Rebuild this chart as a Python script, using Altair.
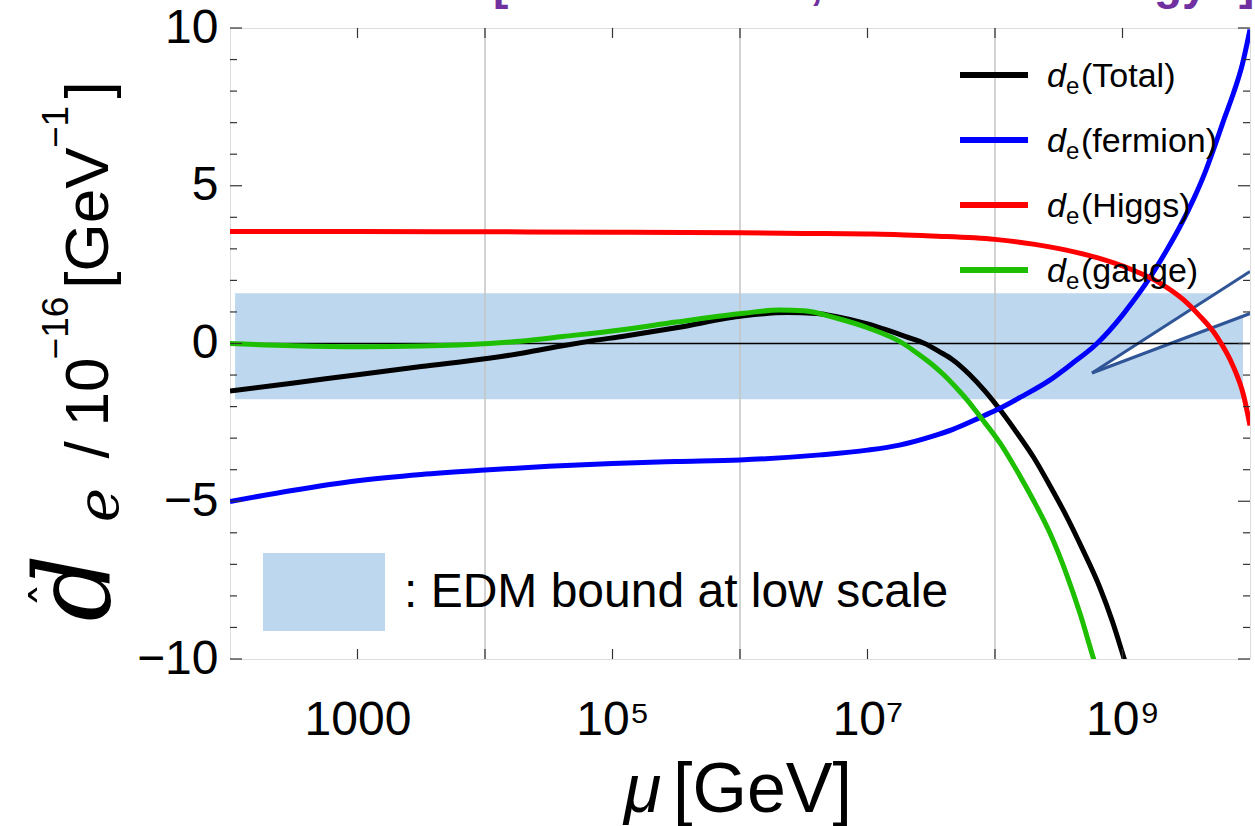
import altair as alt
import pandas as pd

# ---------------- data ----------------
# x positions are log10(mu / GeV)
tot_lx = [2.0, 2.5, 3.0, 3.5, 4.03, 4.3, 4.61, 4.8, 5.1, 5.5, 6.03, 6.37, 6.6, 6.76, 7.0, 7.15, 7.3, 7.46, 7.56, 7.67, 7.8, 7.92, 8.04, 8.17, 8.3, 8.43, 8.56, 8.69, 8.82, 8.92, 9.01, 9.06]
tot_d = [-1.51, -1.25, -0.99, -0.73, -0.47, -0.3, -0.07, 0.06, 0.24, 0.5, 0.88, 0.98, 0.95, 0.85, 0.62, 0.43, 0.22, -0.02, -0.25, -0.52, -0.98, -1.5, -2.1, -2.82, -3.59, -4.5, -5.47, -6.55, -7.71, -8.8, -9.95, -10.6]

fer_lx = [2.0, 2.5, 3.0, 3.5, 4.0, 4.5, 5.0, 5.5, 6.0, 6.63, 7.0, 7.25, 7.5, 7.67, 7.88, 8.01, 8.2, 8.43, 8.6, 8.8, 9.0, 9.08, 9.2, 9.35, 9.45, 9.56, 9.65, 9.74, 9.8, 9.87, 9.94, 10.0]
fer_d = [-5.01, -4.65, -4.35, -4.15, -4.01, -3.89, -3.8, -3.74, -3.69, -3.53, -3.38, -3.22, -2.95, -2.72, -2.35, -2.11, -1.7, -1.16, -0.65, 0.0, 0.9, 1.32, 2.0, 2.98, 3.7, 4.6, 5.45, 6.45, 7.15, 7.93, 8.85, 9.95]

hig_lx = [2.0, 3.0, 4.0, 5.0, 6.0, 6.5, 7.0, 7.25, 7.5, 8.0, 8.3, 8.56, 8.8, 9.08, 9.3, 9.48, 9.6, 9.74, 9.87, 9.95, 10.0]
hig_d = [3.55, 3.55, 3.54, 3.53, 3.51, 3.49, 3.47, 3.45, 3.41, 3.3, 3.15, 2.96, 2.72, 2.33, 1.9, 1.38, 0.9, 0.22, -0.74, -1.65, -2.6]

gau_lx = [2.0, 2.5, 3.04, 3.5, 4.03, 4.3, 4.61, 5.06, 5.5, 6.03, 6.31, 6.5, 6.76, 7.0, 7.28, 7.4, 7.5, 7.6, 7.7, 7.8, 7.88, 8.04, 8.17, 8.3, 8.43, 8.56, 8.67, 8.77, 8.82]
gau_d = [0.0, -0.07, -0.1, -0.08, 0.0, 0.08, 0.22, 0.43, 0.68, 0.96, 1.06, 1.04, 0.8, 0.5, 0.0, -0.34, -0.64, -1.0, -1.42, -1.88, -2.3, -3.16, -4.02, -4.96, -6.0, -7.3, -8.6, -9.95, -10.6]

series_names = ["Total", "fermion", "Higgs", "gauge"]
series_colors = ["#000000", "#0000FF", "#FF0000", "#1DBF00"]
series_lx = [tot_lx, fer_lx, hig_lx, gau_lx]
series_d = [tot_d, fer_d, hig_d, gau_d]

# EDM band (low-scale bound)
band_lx = [2.04, 9.945]
band_d = [1.59, -1.77]

# callout wedge: tip, upper edge end, lower edge end
wedge_tip = (8.761, -0.935)
wedge_end_lx = 10.0
wedge_end_top = 2.28
wedge_end_bot = 0.95

x_tick_vals = [1e3, 1e5, 1e7, 1e9]
x_tick_text = ["1000", "10\u2075", "10\u2077", "10\u2079"]
x_grid_vals = [1e4, 1e6, 1e8]
x_decades = [1e3, 1e4, 1e5, 1e6, 1e7, 1e8, 1e9]
y_major = [-10, -5, 0, 5, 10]
y_minor = [v for v in range(-9, 10) if v % 5 != 0]

# fragments of a cropped heading visible at the very top edge
head_parts = ["[", ",", "gy", "]"]

# ---------------- layout ----------------
W, H = 1020, 631
PL, PT = 230, 28
FONT = "Liberation Sans"

xscale = alt.Scale(type="log", domain=[100, 1e10], nice=False)
yscale = alt.Scale(domain=[-10, 10], nice=False, zero=False)

x_expr = " : ".join(
    f"datum.value == {v:g} ? '{t}'" for v, t in zip(x_tick_vals[:-1], x_tick_text[:-1])
) + f" : '{x_tick_text[-1]}'"

xaxis = alt.Axis(values=x_tick_vals, labelExpr=x_expr, labelFont=FONT, labelFontSize=48,
                 labelColor="black", labelPadding=37, ticks=False, domain=False, grid=False,
                 labelFlush=False, labelOverlap=False, title=None)
yaxis = alt.Axis(values=y_major, labelExpr="datum.value < 0 ? '\u2212' + abs(datum.value) : '' + datum.value",
                 labelFont=FONT, labelFontSize=48, labelColor="black", labelPadding=12,
                 ticks=False, domain=False, grid=False, labelFlush=False, labelOverlap=False, title=None)


def X(field, **kw):
    return alt.X(field, type="quantitative", scale=xscale, axis=xaxis, **kw)


def Y(field, **kw):
    return alt.Y(field, type="quantitative", scale=yscale, axis=yaxis, **kw)


one = pd.DataFrame({"a": [0]})
layers = []

# band
band_df = pd.DataFrame({"x1": [10 ** band_lx[0]], "x2": [10 ** band_lx[1]],
                        "y1": [band_d[0]], "y2": [band_d[1]]})
layers.append(alt.Chart(band_df).mark_rect(color="#BDD7EE").encode(
    x=X("x1"), x2="x2", y=Y("y1"), y2="y2"))

# grid lines
layers.append(alt.Chart(pd.DataFrame({"v": x_grid_vals})).mark_rule(color="#C4C4C4", strokeWidth=1.5).encode(
    x=X("v"), y=alt.value(0), y2=alt.value(H)))

# wedge: white interior built from overlapping thin slices between its two edges, then the edges
n_sl = 80
t0, d0 = wedge_tip
rows = []
for i in range(n_sl):
    fa, fb = i / n_sl, min(1.0, (i + 2) / n_sl)
    fm = (i + 0.5) / n_sl
    rows.append({
        "xa": 10 ** (t0 + fa * (wedge_end_lx - t0)),
        "xb": 10 ** (t0 + fb * (wedge_end_lx - t0)),
        "ya": d0 + fm * (wedge_end_top - d0),
        "yb": d0 + fm * (wedge_end_bot - d0),
    })
layers.append(alt.Chart(pd.DataFrame(rows)).mark_rect(color="white", strokeWidth=0, clip=True).encode(
    x=X("xa"), x2="xb", y=Y("ya"), y2="yb"))
wl = pd.DataFrame({"mu": [10 ** t0, 10 ** wedge_end_lx, 10 ** t0, 10 ** wedge_end_lx],
                   "d": [d0, wedge_end_top, d0, wedge_end_bot],
                   "edge": ["a", "a", "b", "b"]})
layers.append(alt.Chart(wl).mark_line(color="#2F5597", strokeWidth=3, clip=True).encode(
    x=X("mu"), y=Y("d"), detail="edge:N"))

# zero line
layers.append(alt.Chart(pd.DataFrame({"v": [0]})).mark_rule(color="black", strokeWidth=1.3).encode(
    y=Y("v"), x=alt.value(0), x2=alt.value(W)))

# curves
for name, col, lxs, ds in zip(series_names, series_colors, series_lx, series_d):
    df = pd.DataFrame({"mu": [10 ** v for v in lxs], "d": ds})
    layers.append(alt.Chart(df).mark_line(color=col, strokeWidth=5, interpolate="monotone", clip=True).encode(
        x=X("mu"), y=Y("d")))

# inward ticks
TC = "#333333"
ymaj = pd.DataFrame({"v": y_major})
ymin = pd.DataFrame({"v": y_minor})
for df, ln in [(ymaj, 12), (ymin, 7)]:
    layers.append(alt.Chart(df).mark_rule(color=TC, strokeWidth=1.2).encode(
        y=Y("v"), x=alt.value(0), x2=alt.value(ln)))
    layers.append(alt.Chart(df).mark_rule(color=TC, strokeWidth=1.2).encode(
        y=Y("v"), x=alt.value(W - ln), x2=alt.value(W)))
xd = pd.DataFrame({"v": x_decades})
layers.append(alt.Chart(xd).mark_rule(color=TC, strokeWidth=1.2).encode(
    x=X("v"), y=alt.value(H - 10), y2=alt.value(H)))
layers.append(alt.Chart(xd).mark_rule(color=TC, strokeWidth=1.2).encode(
    x=X("v"), y=alt.value(0), y2=alt.value(10)))


def txt(s, x, y, size, font=FONT, style="normal", align="left", baseline="alphabetic", angle=0,
        color="black", weight="normal"):
    kw = dict(text=s, font=font, fontSize=size, fontStyle=style, align=align, baseline=baseline,
              color=color, fontWeight=weight)
    if angle:
        kw["angle"] = angle
    return alt.Chart(one).mark_text(**kw).encode(x=alt.value(x), y=alt.value(y))


# legend
for i, (name, col) in enumerate(zip(series_names, series_colors)):
    yc = 47 + 65 * i
    layers.append(alt.Chart(one).mark_rule(color=col, strokeWidth=6).encode(
        x=alt.value(730), x2=alt.value(798), y=alt.value(yc)))
    layers.append(txt("d", 817, yc + 12, 34, style="italic"))
    layers.append(txt("e", 836, yc + 19, 24))
    layers.append(txt("(" + name + ")", 851, yc + 12, 34))

# EDM box
layers.append(alt.Chart(one).mark_rect(color="#BDD7EE").encode(
    x=alt.value(33), x2=alt.value(155), y=alt.value(525), y2=alt.value(603)))
layers.append(txt(": EDM bound at low scale", 174, 579, 48))

# x title
layers.append(txt("\u03bc", 394, 784, 68, style="italic"))
layers.append(txt("[GeV]", 443, 784, 70))

# y title (rotated pieces, reading bottom to top)
BX = -122
layers.append(txt("d", -120, 560, 105, font="DejaVu Serif", style="italic", align="center", angle=270))
layers.append(txt("\u02c6", -162, 567, 50, font="DejaVu Sans", align="center", angle=270))
layers.append(txt("e", -112, 477, 58, font="DejaVu Serif", style="italic", align="center", angle=270))
layers.append(txt("/", BX, 422, 62, align="center", angle=270))
layers.append(txt("10", BX, 364, 62, align="center", angle=270))
layers.append(txt("\u221216", -162, 300, 37, align="center", angle=270))
layers.append(txt("[GeV", BX, 190, 62, align="center", angle=270))
layers.append(txt("\u22121", -162, 99, 37, align="center", angle=270))
layers.append(txt("]", BX, 62, 62, align="center", angle=270))

# cropped purple heading (only its lowest parts fall inside the picture)
for part, xs in zip(head_parts, [263, 580, 924, 1009]):
    layers.append(txt(part, xs, -29, 46, color="#7030A0", weight="bold"))

chart = alt.layer(*layers).properties(
    width=W, height=H,
    padding={"left": PL, "top": PT, "right": 5, "bottom": 167},
    autosize=alt.AutoSizeParams(type="none"),
).configure_view(stroke="#333333", strokeWidth=1.3).configure(background="white")

chart.save("out.html", embed_options={"renderer": "svg", "actions": False})
